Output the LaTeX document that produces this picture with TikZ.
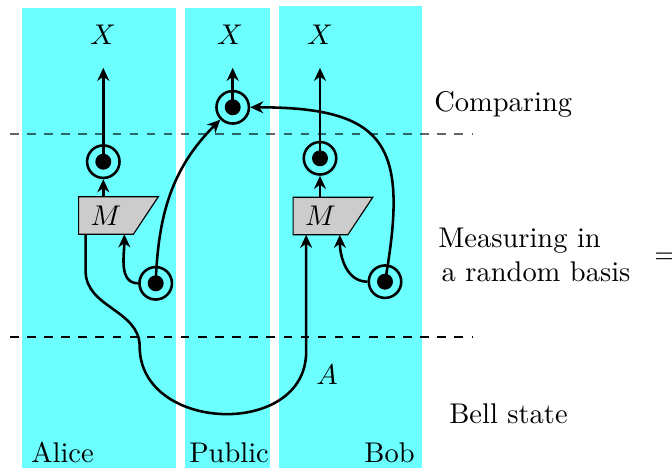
\documentclass[tikz,border=0pt]{standalone}
\usetikzlibrary{arrows.meta,calc,backgrounds}
\definecolor{party}{RGB}{107,255,255}
\begin{document}
\begin{tikzpicture}[
  x=0.351pt, y=0.351pt,
  line width=0.9pt,
  arr/.style={-{Stealth[length=4.6pt, width=4.2pt]}},
  qbit/.style={circle, draw, minimum size=11.4pt, inner sep=0pt,
               path picture={\fill (path picture bounding box.center) circle (2.8pt);}},
  mbox/.style={minimum width=18.3pt, minimum height=12.3pt, inner sep=0pt},
  mshape/.style={fill=black!20, draw=black},
  xlbl/.style={inner sep=0pt, outer ysep=8pt, anchor=base},
  lbl/.style={inner sep=0pt},
  col/.style={fill=party},
  sep/.style={dashed, line width=0.8pt}
]
\useasboundingbox (0,0) rectangle (672,-468);

\node[xlbl] (xa) at (103,-45) {$X$};
\node[xlbl] (xp) at (230,-45) {$X$};
\node[xlbl] (xb) at (320,-45) {$X$};

\node[qbit] (cp) at (232.7,-107.3) {};
\node[qbit] (ca) at (103.3,-161.7) {};
\node[qbit] (cb) at (320,-158.3) {};

\node[mbox] (ma) at (106,-215.5) {$M$};
\node[mbox] (mb) at (320.5,-216) {$M$};

\node[qbit] (qa) at (155.7,-283.3) {};
\node[qbit] (qb) at (385,-281.7) {};

% ---------------- labels ----------------
\node[lbl, anchor=base west] (cmp) at (433,-112) {Comparing};
\node[lbl, anchor=west, align=left] (mrb) at (437,-255)
  {Measuring in\\\hspace*{1.2pt}a random basis};
\node[lbl, anchor=west] (eq) at (653,-258) {$=$};
\node[lbl, anchor=base west] (bell) at (448,-424) {Bell state};
\node[lbl, anchor=base west] (alice) at (30,-463) {Alice};
\node[lbl, anchor=base west] (pub) at (188,-463) {Public};
\node[lbl, anchor=base east] (bob) at (416,-463) {Bob};
\node[lbl, anchor=base west] (la) at (315,-385) {$A$};

\draw[arr] (ca.center) -- (ca.center |- xa.south);
\draw[arr] (cp.center) -- (cp.center |- xp.south);
\draw[arr] (cb.center) -- (cb.center |- xb.south);
\draw[arr] (ma.north -| ca) -- (ca);
\draw[arr] (mb.north -| cb) -- (cb);
\draw[arr] (qa.west) to[out=180, in=-90] ($(ma.south east)+(-9,0)$);
\draw[arr] (qb.west) to[out=180, in=-90] ($(mb.south east)+(-8,0)$);
\draw[arr] (qa.center) to[out=88, in=-135] (cp);
\draw[arr] (qb.center) to[out=80, in=0, looseness=1.6] (cp);

% the shared pair
\draw[arr] ($(ma.south west)+(7,0)$) -- ++(0,-37) to[out=-90, in=90] ++(54,-75)
  to[out=-90, in=-90, looseness=1.33] ($(mb.south west)+(13,-117)$)
  -- ($(mb.south west)+(13,0)$);

% ---------------- parties and stages ----------------
\begin{scope}[on background layer]
  \fill[col] (22,-8) rectangle (176,-468);
  \fill[col] (185,-8) rectangle (270,-468);
  \fill[col] (279,-6.5) rectangle (422,-468);
  \draw[sep, draw opacity=0.6] (10,-133.7) -- (472,-133.7);
  \draw[sep] (10,-336.7) -- (472,-336.7);
  \draw[mshape] (ma.north west) -- ($(ma.north east)+(25,0)$) -- (ma.south east)
    -- (ma.south west) -- cycle;
  \draw[mshape] (mb.north west) -- ($(mb.north east)+(25,0)$) -- (mb.south east)
    -- (mb.south west) -- cycle;
\end{scope}
\end{tikzpicture}
\end{document}
